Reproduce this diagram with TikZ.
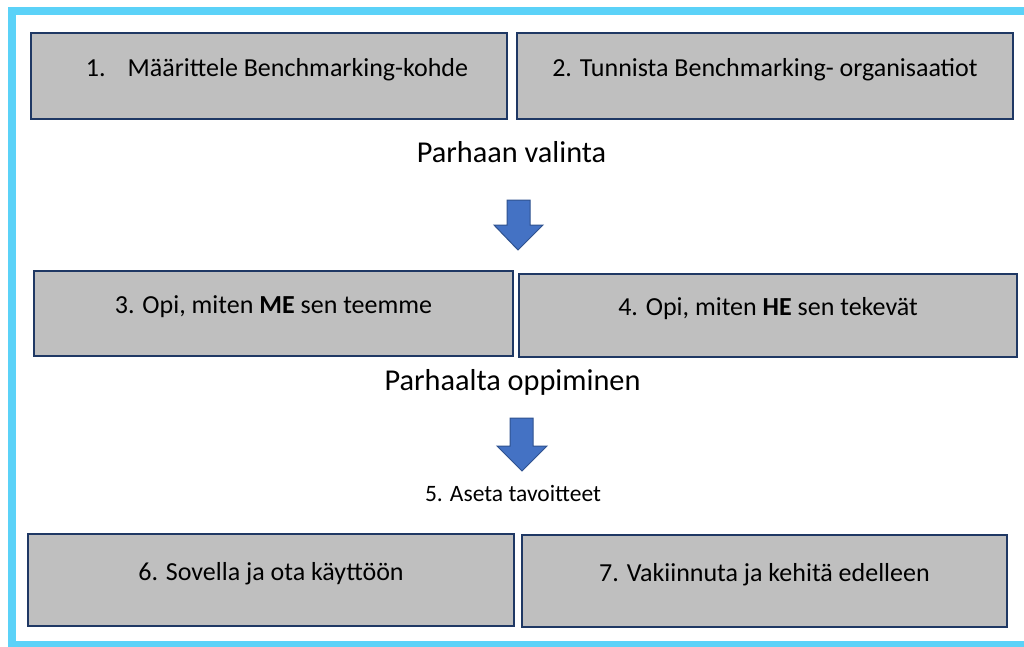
\documentclass[tikz,border=0pt]{standalone}
\usepackage{fontspec}
\setmainfont{Carlito}
\definecolor{framecol}{HTML}{5BD2F8}
\definecolor{boxfill}{HTML}{BFBFBF}
\definecolor{boxline}{HTML}{1F3864}
\definecolor{arrfill}{HTML}{4472C4}
\definecolor{arrline}{HTML}{2F528F}
\begin{document}
\begin{tikzpicture}[x=1pt,y=-1pt,
  box/.style={draw=boxline, fill=boxfill, line width=2.2pt, inner sep=0pt,
    font=\fontsize{26}{30}\selectfont, text height=17pt, text depth=17pt},
  heading/.style={inner sep=0pt, font=\fontsize{30.3}{34}\selectfont},
  small/.style={inner sep=0pt, font=\fontsize{23.5}{27}\selectfont},
  blockarrow/.style={fill=arrfill, draw=arrline, line width=1pt, line join=miter}]
\useasboundingbox (0,0) rectangle (1024,646);
\fill[white] (0,0) rectangle (1024,646);
\draw[framecol, line width=8pt] (12,11) rectangle (1032,645);

\node[box, minimum width=476pt, minimum height=86pt] (b1) at (269,76) {\hspace*{16pt}1.\hspace{0.85em}Määrittele Benchmarking-kohde};
\node[box, minimum width=496pt, minimum height=86pt] (b2) at (765,76) {2. Tunnista Benchmarking- organisaatiot};

\node[heading] (h1) at (511.5,152) {Parhaan valinta};

\draw[blockarrow] (507,200) -- (530,200) -- (530,225) -- (543,225) -- (518,250) -- (494,225) -- (507,225) -- cycle;

\node[box, minimum width=479pt, minimum height=85pt] (b3) at (273.5,313.5) {3. Opi, miten \textbf{ME} sen teemme};
\node[box, minimum width=498pt, minimum height=83pt] (b4) at (768,315.5) {4. Opi, miten \textbf{HE} sen tekevät};

\node[heading] (h2) at (512.5,382) {Parhaalta oppiminen};

\draw[blockarrow] (510,418) -- (533,418) -- (533,446) -- (547,446) -- (522,471) -- (497,446) -- (510,446) -- cycle;

\node[small] (s5) at (513,493) {5. Aseta tavoitteet};

\node[box, minimum width=486pt, minimum height=92pt] (b6) at (271,580) {6. Sovella ja ota käyttöön};
\node[box, minimum width=485pt, minimum height=92pt] (b7) at (764.5,581) {7. Vakiinnuta ja kehitä edelleen};
\end{tikzpicture}
\end{document}
